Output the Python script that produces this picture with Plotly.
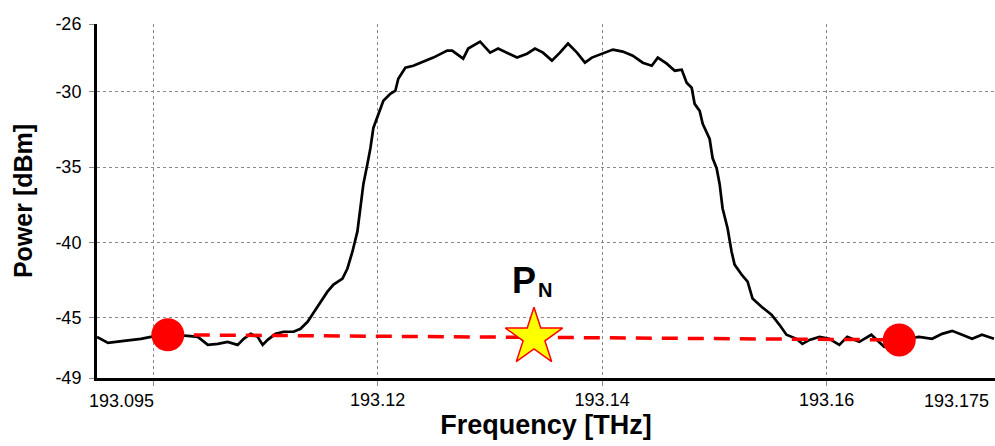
import plotly.graph_objects as go

# Optical spectrum of the channel (frequency in THz, power in dBm)
freq_thz = [
    193.09500, 193.09598, 193.09740, 193.09891, 193.09980, 193.10131, 193.10309, 193.10398,
    193.10487, 193.10576, 193.10664, 193.10753, 193.10807, 193.10869, 193.10931, 193.10976,
    193.11020, 193.11091, 193.11162, 193.11251, 193.11313, 193.11376, 193.11429, 193.11491,
    193.11553, 193.11607, 193.11687, 193.11731, 193.11776, 193.11820, 193.11847, 193.11873,
    193.11909, 193.11936, 193.11962, 193.12007, 193.12051, 193.12113, 193.12158, 193.12184,
    193.12247, 193.12318, 193.12380, 193.12496, 193.12620, 193.12664, 193.12762, 193.12807,
    193.12913, 193.13002, 193.13073, 193.13153, 193.13242, 193.13331, 193.13402, 193.13473,
    193.13553, 193.13624, 193.13696, 193.13776, 193.13847, 193.13909, 193.14007, 193.14096,
    193.14184, 193.14273, 193.14362, 193.14442, 193.14496, 193.14576, 193.14647, 193.14709,
    193.14753, 193.14798, 193.14824, 193.14869, 193.14896, 193.14958, 193.14984, 193.15020,
    193.15047, 193.15073, 193.15118, 193.15153, 193.15180, 193.15242, 193.15296, 193.15340,
    193.15420, 193.15509, 193.15580, 193.15642, 193.15731, 193.15784, 193.15847, 193.15936,
    193.16024, 193.16113, 193.16184, 193.16291, 193.16398, 193.16469, 193.16513, 193.16584,
    193.16691, 193.16824, 193.16940, 193.17029, 193.17118, 193.17207, 193.17296, 193.17384,
    193.17491,
]
power_dbm = [
    -46.27, -46.67, -46.53, -46.40, -46.27, -46.13, -46.20, -46.27,
    -46.80, -46.73, -46.60, -46.80, -46.40, -46.07, -46.27, -46.80,
    -46.47, -46.07, -45.93, -45.93, -45.73, -45.27, -44.67, -43.93,
    -43.27, -42.80, -42.40, -41.73, -40.60, -39.27, -37.73, -36.13,
    -34.80, -33.73, -32.40, -31.47, -30.60, -30.13, -29.93, -29.13,
    -28.40, -28.27, -28.07, -27.73, -27.27, -27.27, -27.80, -27.13,
    -26.67, -27.40, -27.13, -27.40, -27.73, -27.47, -27.13, -27.40,
    -27.93, -27.40, -26.80, -27.40, -28.07, -27.73, -27.47, -27.20,
    -27.33, -27.60, -28.07, -28.27, -27.73, -28.13, -28.60, -28.53,
    -29.40, -29.73, -30.80, -31.27, -32.13, -33.13, -34.40, -35.07,
    -36.13, -37.73, -39.07, -40.60, -41.47, -42.13, -42.60, -43.73,
    -44.27, -44.80, -45.47, -46.13, -46.40, -46.73, -46.47, -46.27,
    -46.40, -46.80, -46.27, -46.60, -46.13, -46.60, -46.93, -46.60,
    -46.40, -46.27, -46.40, -46.07, -45.87, -46.13, -46.40, -46.13,
    -46.40,
]

# Noise-floor reference points on either side of the channel
noise_freq = [193.10131, 193.16647]
noise_power = [-46.13, -46.47]

# Interpolated in-band noise power P_N
pn_freq = [193.13393]
pn_power = [-46.30]
pn_label = "P"
pn_sub = "N"

# Axis ticks
x_range = [193.095, 193.175]
x_grid = [193.10, 193.12, 193.14, 193.16]
x_grid_text = ["", "193.12", "193.14", "193.16"]
x_edge_labels = ["193.095", "193.175"]
y_range = [-49, -25.5]
y_ticks = [-49, -45, -40, -35, -30, -25.5]
y_tick_text = ["-49", "-45", "-40", "-35", "-30", "-26"]

FONT = "Liberation Sans, Arial, sans-serif"

fig = go.Figure()

fig.add_trace(go.Scatter(
    x=freq_thz, y=power_dbm, mode="lines",
    line=dict(color="black", width=2.7),
    showlegend=False, hoverinfo="skip",
))

fig.add_trace(go.Scatter(
    x=noise_freq, y=noise_power, mode="lines",
    line=dict(color="#ff0000", width=3.5, dash="16px,10px"),
    showlegend=False, hoverinfo="skip",
))

fig.add_trace(go.Scatter(
    x=noise_freq, y=noise_power, mode="markers",
    marker=dict(color="#ff0000", size=33, line=dict(width=0)),
    showlegend=False, hoverinfo="skip",
))

fig.add_trace(go.Scatter(
    x=pn_freq, y=pn_power, mode="markers",
    marker=dict(symbol="star", color="#ffff00", size=43,
                line=dict(color="#ff0000", width=1.5)),
    showlegend=False, hoverinfo="skip",
))

# P_N label above the star
fig.add_annotation(
    x=193.13300, y=-42.55, xref="x", yref="y",
    text="<b>" + pn_label + "</b>", showarrow=False,
    font=dict(family=FONT, size=36, color="black"),
)
fig.add_annotation(
    x=193.13491, y=-43.15, xref="x", yref="y",
    text="<b>" + pn_sub + "</b>", showarrow=False,
    font=dict(family=FONT, size=20, color="black"),
)

# Edge tick labels of the frequency axis
fig.add_annotation(
    x=0, y=0, xref="paper", yref="paper", yanchor="middle", xshift=-10, yshift=-23,
    text=x_edge_labels[0], showarrow=False,
    font=dict(family=FONT, size=18, color="black"),
)
fig.add_annotation(
    x=1, y=0, xref="paper", yref="paper", xanchor="right", yanchor="middle",
    xshift=-4, yshift=-23,
    text=x_edge_labels[1], showarrow=False,
    font=dict(family=FONT, size=18, color="black"),
)

fig.update_xaxes(
    range=x_range,
    tickmode="array", tickvals=x_grid, ticktext=x_grid_text,
    showgrid=True, gridcolor="#888888", griddash="dot", gridwidth=1,
    ticks="outside", ticklen=5, tickcolor="#888888", tickwidth=1,
    showline=True, linecolor="black", linewidth=3,
    zeroline=False, ticklabelstandoff=-2,
    tickfont=dict(family=FONT, size=18, color="black"),
    title=dict(text="<b>Frequency [THz]</b>", standoff=4,
               font=dict(family=FONT, size=27, color="black")),
)
fig.update_yaxes(
    range=y_range,
    tickmode="array", tickvals=y_ticks, ticktext=y_tick_text,
    showgrid=True, gridcolor="#888888", griddash="dot", gridwidth=1,
    ticks="outside", ticklen=5, tickcolor="#888888", tickwidth=1,
    showline=True, linecolor="black", linewidth=3,
    zeroline=False, ticklabelstandoff=4,
    tickfont=dict(family=FONT, size=18, color="black"),
    title=dict(text="<b>Power [dBm]</b>", standoff=16,
               font=dict(family=FONT, size=25, color="black")),
)

fig.update_layout(
    width=995, height=446,
    margin=dict(l=97, r=0, t=24, b=68),
    paper_bgcolor="white", plot_bgcolor="white",
    font=dict(family=FONT, color="black"),
)

fig.write_html("out.html")
